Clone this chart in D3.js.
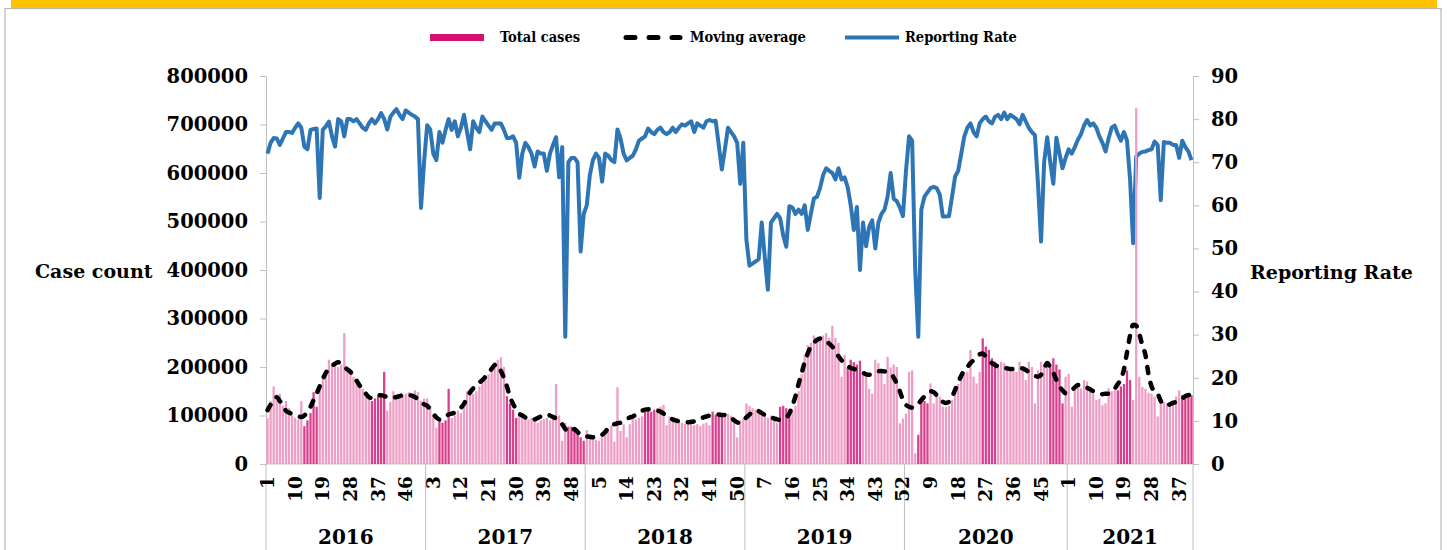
<!DOCTYPE html>
<html>

<head>
    <meta charset="utf-8">
    <script src="https://d3js.org/d3.v7.min.js" charset="utf-8"></script>
    <style>
        body { margin: 0; background: #fff; }
        svg text { font-family: "DejaVu Serif", serif; font-weight: bold; fill: #000; }
        .legend text { font-family: "DejaVu Serif Condensed", "DejaVu Serif", serif; font-stretch: condensed; font-size: 14.5px; }
        .axis path, .axis line { stroke: #bfbfbf; }
    </style>
</head>

<body>
    <div id="chart_container"></div>
    <script>
        // weekly series, one array per year (cases and moving average in thousands)
        const years = ['2016', '2017', '2018', '2019', '2020', '2021'];

        const cases2016 = [95,130,160,140,145,120,130,115,100,95, 92,130,78,90,105,148,118,160,175,185,
            215,205,210,200,205,270,200,190,180,170, 160,155,150,140,130,135,140,140,190,110,
            128,150,140,140,142,145,148,145,152,148, 130,135];
        const cases2017 = [135,120,100,75,90,85,90,155,95,100, 110,105,120,150,155,145,150,160,175,180,
            185,195,210,215,220,200,140,125,112,95, 100,97,95,92,95,88,85,90,92,95,
            90,97,165,100,48,85,77,77,76,72, 55,48];
        const cases2018 = [70,55,52,50,48,55,67,70,80,46, 158,68,82,55,82,100,92,95,98,108,
            110,108,112,115,118,122,80,98,92,88, 85,85,83,82,85,80,82,78,83,85,
            80,108,102,100,98,103,104,100,90,55, 90,95];
        const cases2019 = [125,120,115,112,105,100,98,95,100,92, 85,118,120,115,112,110,120,150,185,225,
            245,250,265,255,260,265,270,260,285,260, 250,180,225,200,215,210,205,213,190,180,
            155,145,215,208,190,165,221,199,205,200, 84,94];
        const cases2020 = [104,190,193,22,60,128,130,125,166,125, 142,139,118,118,120,132,145,165,180,188,
            190,235,180,166,190,259,242,235,218,211, 204,211,208,201,193,200,190,211,200,173,
            211,200,125,193,211,205,201,201,218,205, 195,125,180];
        const cases2021 = [186,118,156,159,156,173,170,159,145,132, 135,121,125,156,150,152,152,160,165,193,
            173,132,734,180,159,155,147,145,139,98, 132,128,125,125,130,139,152,142,142,142, 142];

        const ma2016 = [111,122,133,138,130,120,110,106,103,100, 98,97,100,108,118,132,145,160,175,188,
            196,202,207,210,205,200,195,190,182,172, 162,152,145,138,136,138,142,142,140,138,
            136,137,138,140,142,143,142,141,138,134, 128,123];
        const ma2017 = [120,112,104,96,92,94,98,102,104,106, 110,116,124,136,148,156,162,168,173,180,
            188,196,204,205,192,178,160,138,124,112, 104,100,96,93,91,92,95,98,101,102,
            100,97,94,90,82,72,66,68,72,66, 60,58];
        const ma2018 = [57,56,55,55,56,60,66,74,80,82, 84,85,88,92,96,98,102,106,110,112,
            113,112,111,110,108,104,100,96,92,90, 88,87,86,86,87,88,90,93,96,98,
            100,101,102,102,101,101,100,96,90,86, 84,90];
        const ma2019 = [96,102,108,111,109,105,101,98,96,94, 92,91,92,96,104,120,140,165,187,210,
            228,242,250,256,259,258,254,248,242,232, 222,214,208,202,198,196,194,192,188,185,
            184,185,188,191,192,191,189,187,178,166, 150,132];
        const ma2020 = [122,118,116,118,124,132,139,145,150,148, 142,134,128,126,128,138,153,168,182,194,
            200,208,214,220,226,228,222,214,208,204, 201,199,198,197,196,196,197,198,197,194,
            190,186,182,180,184,196,208,200,188,173, 160,152,146];
        const ma2021 = [148,152,158,163,163,160,157,154,150,147, 145,144,145,145,148,155,165,175,195,230,
            265,287,285,268,245,225,185,160,150,145, 130,122,121,123,126,128,132,135,140,142, 143];

        const rate2016 = [72,74.5,75.6,75.5,74,75.5,77,77,76.8,78, 79,78,73.6,73,77.5,77.7,77.8,61.7,77.5,78.3,
            79.4,76,73.6,80,79.5,76,80,80,79.5,80, 79,78,77.5,79,80,79,80,81.4,80,77.6,
            80.5,81.5,82.3,81,80,82,81.5,81,80.6,80, 59.4,70];
        const rate2017 = [78.6,77.6,72,70.5,77,74.5,77.5,80,77.5,79.5, 76,78,81,77,73,79.5,78,77,80.6,79.5,
            78.5,77.5,79,79,79,77.5,75.6,75.6,76,74.5, 66.4,72,74.5,73.5,72,69,72.5,72,72,68,
            72,74,75.8,66.5,73.5,29.5,70,71,71,70, 49.3,58];
        const rate2018 = [60,67,70.5,72,71,65.5,72,71.5,70.5,70, 77.6,75.5,72,70.4,71,71.5,73,75,75.5,76,
            77.8,77,76.5,77.5,78,77,76.5,77,78,77, 78,78.8,78.5,79,79.5,77,79,78.5,78,79.5,
            79.8,79.5,79.6,74,68.3,73,78,77,76,74.5, 65,74.5];
        const rate2019 = [52,46,46.5,47,47.5,56,48,40.4,56,57, 58,57,53,50.4,59.8,59.5,58,59,58,60,
            54.3,58,61.6,62,64,67,68.6,68,67.5,66, 68.6,66,66.5,64.2,60,54.3,59.6,45,56,50.5,
            55,56.5,50,56,58,59,62,67.5,61.5,61, 59.5,57.5];
        const rate2020 = [68,76,75,45,29.5,59,62,63,64,64.3, 64,62.5,57.4,57.4,57.5,62,66.7,68,72,76,
            78,79,77,76,79,80,80.6,79.5,79,80.5, 81,80,81.5,80,81,80.5,80,78.8,81,79.5,
            78,77,76.3,65,51.6,70,75.8,70,65,75.7, 72,68.6,71];
        const rate2021 = [73,72,73.5,75.2,76.5,78.5,79.8,78.5,79,78, 76,74.5,72.5,75.5,78,78.5,76.5,75,77,75,
            66,51.2,71.3,72,72.4,72.5,72.8,73,74.8,74, 61.2,74.7,74.5,74.5,74,74,71,75,73.5,72.5, 70.5];

        // weeks drawn in the darker pink: [year, first week, last week]
        const darkRanges = [['2016',13,17],['2016',35,39],['2017',5,8],['2017',27,30],['2017',47,52],
            ['2018',20,23],['2018',42,45],['2019',12,15],['2019',34,38],['2020',5,8],['2020',26,30],
            ['2020',48,52],['2021',17,21],['2021',38,41]];

        // week numbers printed under the axis, per year
        const weekTicks = [[1,10,19,28,37,46],[3,12,21,30,39,48],[5,14,23,32,41,50],
            [7,16,25,34,43,52],[9,18,27,36,45],[1,10,19,28,37]];

        const caseTicks = [0,100000,200000,300000,400000,500000,600000,700000,800000];
        const rateTicks = [0,10,20,30,40,50,60,70,80,90];

        const casesByYear = [cases2016, cases2017, cases2018, cases2019, cases2020, cases2021];
        const maByYear = [ma2016, ma2017, ma2018, ma2019, ma2020, ma2021];
        const rateByYear = [rate2016, rate2017, rate2018, rate2019, rate2020, rate2021];

        // flat weekly table
        var rows = [];
        var yearStart = [];
        years.forEach((yr, yi) => {
            yearStart.push(rows.length);
            casesByYear[yi].forEach((c, k) => {
                var wk = k + 1;
                var dark = darkRanges.some(r => r[0] === yr && wk >= r[1] && wk <= r[2]);
                rows.push({ idx: rows.length, year: yr, week: wk, cases: c * 1000,
                    ma: maByYear[yi][k] * 1000, rate: rateByYear[yi][k], dark: dark });
            });
        });
        yearStart.push(rows.length);

        var width = 1447, height = 550;
        var plot = { left: 266, right: 1193, top: 76, bottom: 464 };

        var svg = d3.select('#chart_container').append('svg')
            .attr('width', width).attr('height', height);

        // frame
        svg.append('rect').attr('x', 5).attr('y', 8.5).attr('width', 1436).attr('height', 560)
            .attr('fill', '#fff').attr('stroke', '#b7b7b7').attr('stroke-width', 1.2);
        svg.append('rect').attr('x', 11).attr('y', 0).attr('width', 1426).attr('height', 8)
            .attr('fill', '#ffc000');

        var x = d3.scaleBand()
            .domain(rows.map(d => d.idx))
            .range([plot.left, plot.right])
            .paddingInner(0.26).paddingOuter(0.13);
        var step = x.step();
        var xc = i => x(i) + x.bandwidth() / 2;
        var edge = i => plot.left + i * step;

        var yL = d3.scaleLinear().domain([0, 800000]).range([plot.bottom, plot.top]);
        var yR = d3.scaleLinear().domain([0, 90]).range([plot.bottom, plot.top]);

        // axes
        var gL = svg.append('g').attr('class', 'axis')
            .attr('transform', `translate(${plot.left},0)`)
            .call(d3.axisLeft(yL).tickValues(caseTicks).tickSize(6).tickSizeOuter(0).tickPadding(12)
                .tickFormat(d3.format('d')));
        var gR = svg.append('g').attr('class', 'axis')
            .attr('transform', `translate(${plot.right},0)`)
            .call(d3.axisRight(yR).tickValues(rateTicks).tickSize(6).tickSizeOuter(0).tickPadding(12));
        [gL, gR].forEach(g => g.selectAll('text').style('font-size', '19.5px')
            .style('font-family', '"DejaVu Serif", serif').style('font-weight', 'bold').attr('fill', '#000'));

        svg.append('line').attr('x1', plot.left).attr('x2', plot.right)
            .attr('y1', plot.bottom).attr('y2', plot.bottom).attr('stroke', '#bfbfbf');

        // year separators and labels
        svg.append('g').selectAll('line').data(yearStart).enter().append('line')
            .attr('x1', d => edge(d)).attr('x2', d => edge(d))
            .attr('y1', plot.bottom).attr('y2', height)
            .attr('stroke', '#bfbfbf');

        svg.append('g').selectAll('text').data(years).enter().append('text')
            .attr('x', (d, i) => (edge(yearStart[i]) + edge(yearStart[i + 1])) / 2)
            .attr('y', 537).attr('dy', '0.35em')
            .attr('text-anchor', 'middle').style('font-size', '20px')
            .text(d => d);

        var tickRows = rows.filter(d => weekTicks[years.indexOf(d.year)].includes(d.week));
        svg.append('g').selectAll('text').data(tickRows).enter().append('text')
            .attr('transform', d => `translate(${xc(d.idx)},476) rotate(-90)`)
            .attr('dy', '0.35em').attr('text-anchor', 'end')
            .style('font-size', '18.5px')
            .text(d => d.week);

        // reporting rate
        var rateLine = d3.line().x(d => xc(d.idx)).y(d => yR(d.rate));
        svg.append('path').datum(rows).attr('d', rateLine)
            .attr('fill', 'none').attr('stroke', '#2e75b6').attr('stroke-width', 4)
            .attr('stroke-linejoin', 'round');

        // weekly cases
        svg.append('g').selectAll('rect').data(rows).enter().append('rect')
            .attr('x', d => x(d.idx)).attr('width', x.bandwidth())
            .attr('y', d => yL(d.cases)).attr('height', d => plot.bottom - yL(d.cases))
            .attr('fill', d => d.dark ? '#d8408e' : '#ee9ec6');

        // moving average
        var maLine = d3.line().x(d => xc(d.idx)).y(d => yL(d.ma)).curve(d3.curveMonotoneX);
        svg.append('path').datum(rows).attr('d', maLine)
            .attr('fill', 'none').attr('stroke', '#000').attr('stroke-width', 4.5)
            .attr('stroke-dasharray', '6,10').attr('stroke-linecap', 'round');

        // axis titles
        svg.append('text').attr('x', 35).attr('y', 271).attr('dy', '0.35em')
            .style('font-size', '19px').text('Case count');
        svg.append('text').attr('x', 1250).attr('y', 272).attr('dy', '0.35em')
            .style('font-size', '19px').text('Reporting Rate');

        // legend
        var lg = svg.append('g').attr('class', 'legend');
        lg.append('rect').attr('x', 430).attr('y', 34).attr('width', 54).attr('height', 7).attr('fill', '#d5116e');
        lg.append('text').attr('x', 500).attr('y', 37).attr('dy', '0.35em').text('Total cases');
        lg.append('line').attr('x1', 626).attr('x2', 680).attr('y1', 37.5).attr('y2', 37.5)
            .attr('stroke', '#000').attr('stroke-width', 5).attr('stroke-dasharray', '9,14')
            .attr('stroke-linecap', 'round');
        lg.append('text').attr('x', 690).attr('y', 37).attr('dy', '0.35em').text('Moving average');
        lg.append('line').attr('x1', 845).attr('x2', 899).attr('y1', 37.5).attr('y2', 37.5)
            .attr('stroke', '#2e75b6').attr('stroke-width', 4);
        lg.append('text').attr('x', 905).attr('y', 37).attr('dy', '0.35em').text('Reporting Rate');
    </script>
</body>

</html>
